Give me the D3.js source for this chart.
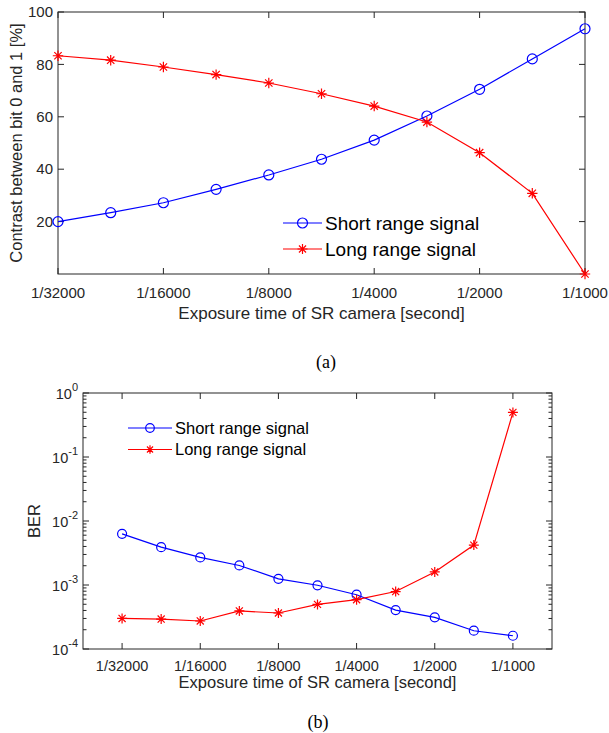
<!DOCTYPE html>
<html>
<head>
<meta charset="utf-8">
<script src="https://cdn.jsdelivr.net/npm/d3@7"></script>
<style>
  html, body { margin: 0; padding: 0; background: #fff; }
  svg { display: block; }
  text { font-family: "Liberation Sans", Arial, sans-serif; fill: #262626; }
</style>
</head>
<body>
<svg id="fig" width="609" height="733"></svg>
<script>
// Exposure steps (11 points, labelled every other one)
const exposureIndex = [0, 1, 2, 3, 4, 5, 6, 7, 8, 9, 10];
const tickIndex = [0, 2, 4, 6, 8, 10];
const tickLabels = ["1/32000", "1/16000", "1/8000", "1/4000", "1/2000", "1/1000"];

// (a) contrast between bit 0 and 1 [%]
const contrastShort = [20.0, 23.4, 27.2, 32.3, 37.8, 43.8, 51.1, 60.3, 70.5, 82.1, 93.6];
const contrastLong  = [83.3, 81.6, 79.0, 76.1, 72.9, 68.8, 64.1, 58.0, 46.3, 30.8, 0.0];
const contrastTicks = [20, 40, 60, 80, 100];

// (b) bit error rate
const berShort = [6.3e-3, 3.9e-3, 2.7e-3, 2.02e-3, 1.25e-3, 9.9e-4, 7.05e-4, 4.06e-4, 3.12e-4, 1.93e-4, 1.61e-4];
const berLong  = [3.0e-4, 2.94e-4, 2.74e-4, 3.93e-4, 3.65e-4, 4.98e-4, 5.9e-4, 7.9e-4, 1.6e-3, 4.2e-3, 0.498];
const berExponents = [0, -1, -2, -3, -4];

const seriesNames = ["Short range signal", "Long range signal"];
const BLUE = "#0000ff", RED = "#ff0000", AXIS = "#262626";

const svg = d3.select("#fig");

function circleMarker(g, x, y, r, color) {
  g.append("circle").attr("cx", x).attr("cy", y).attr("r", r)
    .attr("fill", "none").attr("stroke", color).attr("stroke-width", 1.2);
}
function starMarker(g, x, y, r, color) {
  const d = r * Math.SQRT1_2;
  const p = `M${x - r},${y}L${x + r},${y}M${x},${y - r}L${x},${y + r}` +
            `M${x - d},${y - d}L${x + d},${y + d}M${x - d},${y + d}L${x + d},${y - d}`;
  g.append("path").attr("d", p).attr("stroke", color).attr("stroke-width", 1.2).attr("fill", "none");
}

function drawSeries(g, x, y, values, color, marker, r) {
  const line = d3.line().x((d, i) => x(exposureIndex[i])).y(d => y(d));
  g.append("path").datum(values).attr("d", line)
    .attr("fill", "none").attr("stroke", color).attr("stroke-width", 1.2);
  values.forEach((v, i) => marker(g, x(exposureIndex[i]), y(v), r, color));
}

function drawBox(g, L, R, T, B) {
  g.append("rect").attr("x", L).attr("y", T).attr("width", R - L).attr("height", B - T)
    .attr("fill", "none").attr("stroke", AXIS).attr("stroke-width", 1);
}

function xTicks(g, x, T, B, len) {
  tickIndex.forEach(i => {
    const px = x(i);
    g.append("line").attr("x1", px).attr("x2", px).attr("y1", B).attr("y2", B - len).attr("stroke", AXIS);
    g.append("line").attr("x1", px).attr("x2", px).attr("y1", T).attr("y2", T + len).attr("stroke", AXIS);
  });
}

function legend(g, x0, y0, dy, lineLen, fontSize, r) {
  const colors = [BLUE, RED];
  const markers = [circleMarker, starMarker];
  seriesNames.forEach((name, k) => {
    const yy = y0 + k * dy;
    g.append("line").attr("x1", x0).attr("x2", x0 + lineLen).attr("y1", yy).attr("y2", yy)
      .attr("stroke", colors[k]).attr("stroke-width", 1.2);
    markers[k](g, x0 + lineLen / 2, yy, r, colors[k]);
    g.append("text").attr("x", x0 + lineLen + 3).attr("y", yy).attr("dy", "0.35em")
      .attr("font-size", fontSize).style("fill", "#000").text(name);
  });
}

// ---------- (a) ----------
{
  const L = 58, R = 585, T = 12, B = 274;
  const g = svg.append("g");
  const x = d3.scaleLinear().domain([0, 10]).range([L, R]);
  const y = d3.scaleLinear().domain([0, 100]).range([B, T]);

  drawBox(g, L, R, T, B);
  xTicks(g, x, T, B, 6);
  contrastTicks.forEach(v => {
    const py = y(v);
    g.append("line").attr("x1", L).attr("x2", L + 6).attr("y1", py).attr("y2", py).attr("stroke", AXIS);
    g.append("line").attr("x1", R).attr("x2", R - 6).attr("y1", py).attr("y2", py).attr("stroke", AXIS);
    g.append("text").attr("x", L - 5).attr("y", py).attr("dy", "0.35em")
      .attr("text-anchor", "end").attr("font-size", 15).text(v);
  });
  tickIndex.forEach((i, k) => {
    g.append("text").attr("x", x(i)).attr("y", B + 24).attr("text-anchor", "middle")
      .attr("font-size", 15).text(tickLabels[k]);
  });
  g.append("text").attr("x", (L + R) / 2).attr("y", B + 45).attr("text-anchor", "middle")
    .attr("font-size", 17).text("Exposure time of SR camera [second]");
  g.append("text").attr("transform", `translate(22,${(T + B) / 2}) rotate(-90)`)
    .attr("text-anchor", "middle").attr("font-size", 16.5).text("Contrast between bit 0 and 1 [%]");

  drawSeries(g, x, y, contrastShort, BLUE, circleMarker, 5);
  drawSeries(g, x, y, contrastLong, RED, starMarker, 5.2);

  legend(g, 283, 223, 26, 39, 19, 5);

  svg.append("text").attr("x", 326).attr("y", 368).attr("text-anchor", "middle")
    .style("font-family", "'Liberation Serif', 'Times New Roman', serif")
    .attr("font-size", 18).style("fill", "#000").text("(a)");
}

// ---------- (b) ----------
{
  const L = 83, R = 552, T = 393, B = 649;
  const g = svg.append("g");
  const x = d3.scaleLinear().domain([-1, 11]).range([L, R]);
  const y = d3.scaleLog().domain([1e-4, 1]).range([B, T]);

  drawBox(g, L, R, T, B);
  xTicks(g, x, T, B, 6);

  // minor log ticks
  for (let e = -4; e < 0; e++) {
    for (let m = 2; m <= 9; m++) {
      const py = y(m * Math.pow(10, e));
      g.append("line").attr("x1", L).attr("x2", L + 3.5).attr("y1", py).attr("y2", py).attr("stroke", AXIS);
      g.append("line").attr("x1", R).attr("x2", R - 3.5).attr("y1", py).attr("y2", py).attr("stroke", AXIS);
    }
  }
  berExponents.forEach(e => {
    const py = y(Math.pow(10, e));
    g.append("line").attr("x1", L).attr("x2", L + 6).attr("y1", py).attr("y2", py).attr("stroke", AXIS);
    g.append("line").attr("x1", R).attr("x2", R - 6).attr("y1", py).attr("y2", py).attr("stroke", AXIS);
    const t = g.append("text").attr("x", L - 5).attr("y", py + 6).attr("text-anchor", "end").attr("font-size", 14.5);
    t.append("tspan").text("10");
    t.append("tspan").attr("font-size", 11).attr("dy", -8).text(e);
  });
  tickIndex.forEach((i, k) => {
    g.append("text").attr("x", x(i)).attr("y", B + 22).attr("text-anchor", "middle")
      .attr("font-size", 14.5).text(tickLabels[k]);
  });
  g.append("text").attr("x", (L + R) / 2).attr("y", B + 39).attr("text-anchor", "middle")
    .attr("font-size", 16.5).text("Exposure time of SR camera [second]");
  g.append("text").attr("transform", `translate(40,${(T + B) / 2}) rotate(-90)`)
    .attr("text-anchor", "middle").attr("font-size", 16.5).text("BER");

  drawSeries(g, x, y, berShort, BLUE, circleMarker, 4.5);
  drawSeries(g, x, y, berLong, RED, starMarker, 5);

  legend(g, 128, 428, 21.5, 44, 16.5, 4.3);

  svg.append("text").attr("x", 318).attr("y", 728).attr("text-anchor", "middle")
    .style("font-family", "'Liberation Serif', 'Times New Roman', serif")
    .attr("font-size", 18).style("fill", "#000").text("(b)");
}
</script>
</body>
</html>
